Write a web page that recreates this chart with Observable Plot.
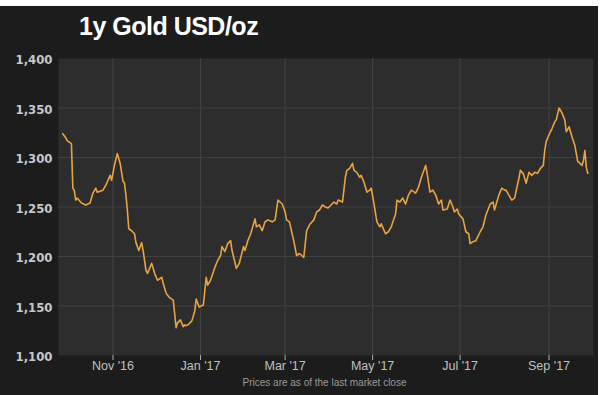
<!DOCTYPE html>
<html>
<head>
<meta charset="utf-8">
<script src="https://cdn.jsdelivr.net/npm/d3@7"></script>
<script src="https://cdn.jsdelivr.net/npm/@observablehq/plot@0.6"></script>
<style>
  html, body { margin: 0; padding: 0; background: #ffffff; }
  #wrap { position: relative; width: 606px; height: 395px; overflow: hidden; }
  #bg { position: absolute; left: 0; top: 6px; width: 598px; height: 389px; background: #1c1c1c; }
  #title { position: absolute; left: 79px; top: 14px; font: bold 25px "Liberation Sans", Arial, sans-serif;
           line-height: 25px; letter-spacing: -0.5px; color: #ffffff; white-space: nowrap; }
  #caption { position: absolute; left: 0; width: 649px; top: 377px; text-align: center;
             font: 10px "Liberation Sans", Arial, sans-serif; line-height: 12px; color: #9a9a9a; }
  #chart { position: absolute; left: 0; top: 0; }
</style>
</head>
<body>
<div id="wrap">
  <div id="bg"></div>
  <div id="chart"></div>
  <div id="title">1y Gold USD/oz</div>
  <div id="caption">Prices are as of the last market close</div>
</div>
<script>
const dates = [
"2016-09-27","2016-09-29","2016-09-30","2016-10-03","2016-10-04","2016-10-05","2016-10-06","2016-10-07",
"2016-10-10","2016-10-13","2016-10-16","2016-10-18","2016-10-20","2016-10-21","2016-10-25","2016-10-27",
"2016-10-30","2016-10-31","2016-11-02","2016-11-04","2016-11-06","2016-11-08","2016-11-09","2016-11-10",
"2016-11-11","2016-11-12","2016-11-14","2016-11-16","2016-11-17","2016-11-19","2016-11-21","2016-11-22",
"2016-11-24","2016-11-25","2016-11-28","2016-11-30","2016-12-02","2016-12-05","2016-12-06","2016-12-08",
"2016-12-10","2016-12-13","2016-12-15","2016-12-16","2016-12-18","2016-12-20","2016-12-21","2016-12-22",
"2016-12-24","2016-12-26","2016-12-28","2016-12-29","2016-12-31","2017-01-03","2017-01-05","2017-01-06",
"2017-01-08","2017-01-11","2017-01-13","2017-01-15","2017-01-16","2017-01-18","2017-01-20","2017-01-22",
"2017-01-23","2017-01-26","2017-01-28","2017-01-31","2017-02-01","2017-02-03","2017-02-05","2017-02-08",
"2017-02-09","2017-02-11","2017-02-13","2017-02-15","2017-02-17","2017-02-20","2017-02-22","2017-02-24",
"2017-02-27","2017-03-01","2017-03-02","2017-03-04","2017-03-07","2017-03-09","2017-03-11","2017-03-14",
"2017-03-16","2017-03-18","2017-03-21","2017-03-23","2017-03-25","2017-03-27","2017-03-29","2017-03-31",
"2017-04-04","2017-04-06","2017-04-07","2017-04-10","2017-04-12","2017-04-13","2017-04-15","2017-04-17",
"2017-04-18","2017-04-20","2017-04-22","2017-04-23","2017-04-25","2017-04-27","2017-04-29","2017-04-30",
"2017-05-02","2017-05-04","2017-05-06","2017-05-07","2017-05-10","2017-05-12","2017-05-14","2017-05-17",
"2017-05-18","2017-05-20","2017-05-22","2017-05-24","2017-05-26","2017-05-28","2017-05-31","2017-06-02",
"2017-06-04","2017-06-07","2017-06-08","2017-06-10","2017-06-12","2017-06-14","2017-06-16","2017-06-18",
"2017-06-19","2017-06-22","2017-06-24","2017-06-26","2017-06-27","2017-06-29","2017-06-30","2017-07-03",
"2017-07-05","2017-07-07","2017-07-08","2017-07-10","2017-07-12","2017-07-15","2017-07-17","2017-07-19",
"2017-07-22","2017-07-24","2017-07-25","2017-07-28","2017-07-30","2017-08-01","2017-08-02","2017-08-04",
"2017-08-06","2017-08-08","2017-08-11","2017-08-12","2017-08-14","2017-08-16","2017-08-18","2017-08-20",
"2017-08-22","2017-08-24","2017-08-26","2017-08-28","2017-08-29","2017-08-30","2017-09-01","2017-09-03",
"2017-09-05","2017-09-06","2017-09-08","2017-09-10","2017-09-12","2017-09-13","2017-09-15","2017-09-17",
"2017-09-19","2017-09-21","2017-09-24","2017-09-25","2017-09-26","2017-09-27","2017-09-28"
];
const prices = [
1324,1320,1317,1314,1269,1267,1257,1259,
1254,1252,1254,1264,1269,1265,1267,1272,
1282,1277,1292,1304,1294,1276,1274,1262,
1247,1228,1226,1223,1214,1206,1214,1206,
1186,1183,1193,1183,1176,1179,1173,1163,
1159,1156,1128,1133,1136,1129,1131,1130,
1132,1135,1145,1157,1149,1151,1179,1171,
1176,1189,1196,1201,1210,1205,1213,1216,
1206,1188,1193,1210,1206,1216,1223,1238,
1230,1232,1226,1235,1237,1235,1237,1257,
1253,1245,1237,1235,1216,1201,1203,1199,
1226,1232,1237,1245,1247,1252,1250,1249,
1255,1253,1257,1255,1280,1287,1289,1294,
1287,1285,1280,1282,1275,1265,1267,1269,
1253,1235,1230,1233,1223,1225,1230,1243,
1257,1255,1259,1253,1262,1267,1264,1270,
1280,1292,1284,1265,1267,1262,1253,1257,
1247,1248,1257,1250,1245,1248,1243,1238,
1225,1223,1213,1215,1216,1225,1230,1242,
1253,1255,1247,1262,1269,1267,1267,1262,
1257,1259,1279,1287,1284,1274,1285,1282,
1285,1284,1289,1292,1307,1316,1323,1329,
1336,1338,1350,1345,1338,1326,1331,1321,
1312,1296,1292,1297,1307,1290,1284
];
const xTicks = ["2016-11-01","2017-01-01","2017-03-01","2017-05-01","2017-07-01","2017-09-01"];
const yTicks = [1100,1150,1200,1250,1300,1350,1400];
const xDomain = ["2016-09-24","2017-10-02"];
const yDomain = [1100,1400];
const titleText = "1y Gold USD/oz";
const captionText = "Prices are as of the last market close";

const parse = d3.utcParse("%Y-%m-%d");
const data = dates.map((d, i) => ({date: parse(d), price: prices[i]}));
const tickDates = xTicks.map(parse);

const chart = Plot.plot({
  width: 606,
  height: 395,
  marginLeft: 58,
  marginRight: 13,
  marginTop: 58,
  marginBottom: 40,
  style: {background: "transparent", overflow: "visible"},
  x: {type: "utc", domain: xDomain.map(parse)},
  y: {domain: yDomain},
  marks: [
    Plot.frame({fill: "#2d2d2d", stroke: null}),
    Plot.gridY(yTicks.slice(1, -1), {stroke: "#414141", strokeOpacity: 1, strokeWidth: 1.2}),
    Plot.gridX(tickDates, {stroke: "#414141", strokeOpacity: 1, strokeWidth: 1.2}),
    Plot.axisY(yTicks, {
      tickSize: 0, tickPadding: 6, tickFormat: d3.format(","), label: null,
      fill: "#c8c8c8", fontFamily: "DejaVu Sans", fontWeight: "bold", fontSize: 11.7, dy: 2
    }),
    Plot.axisX(tickDates, {
      tickSize: 5, tickPadding: 1, tickFormat: d3.utcFormat("%b '%y"), label: null,
      stroke: "#b0b0b0", fill: "#c0c0c0", fontFamily: "Liberation Sans", fontSize: 12.5
    }),
    Plot.line(data, {x: "date", y: "price", stroke: "#e8a440", strokeWidth: 1.6, curve: "linear"})
  ]
});
document.getElementById("chart").appendChild(chart);
document.getElementById("title").textContent = titleText;
document.getElementById("caption").textContent = captionText;
</script>
</body>
</html>
